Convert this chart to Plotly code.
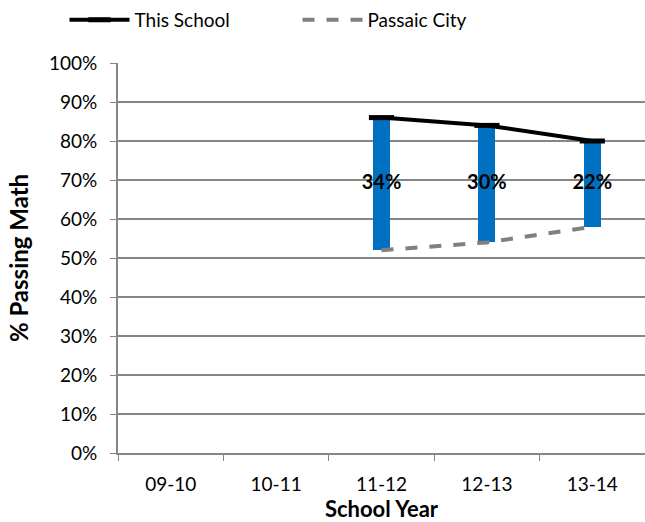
import plotly.graph_objects as go

years = ["09-10", "10-11", "11-12", "12-13", "13-14"]
school = [None, None, 86, 84, 80]
city = [None, None, 52, 54, 58]
gap_years = ["11-12", "12-13", "13-14"]
gap_labels = ["34%", "30%", "22%"]

school_g = [s for s in school if s is not None]
city_g = [c for c in city if c is not None]
gap = [s - c for s, c in zip(school_g, city_g)]
mid = [c + g / 2 for c, g in zip(city_g, gap)]

FONT = "Lato"

fig = go.Figure()
fig.add_trace(go.Bar(
    x=gap_years, y=gap, base=city_g, width=0.16,
    marker=dict(color="#0070C0", line=dict(width=0)),
    showlegend=False, hoverinfo="skip",
))
fig.add_trace(go.Scatter(
    x=gap_years, y=mid, mode="text", text=gap_labels,
    textfont=dict(family=FONT, size=20, color="black", weight="bold"),
    showlegend=False, hoverinfo="skip",
))
fig.add_trace(go.Scatter(
    x=years, y=school, name="This School", mode="lines+markers",
    line=dict(color="black", width=4),
    marker=dict(symbol="line-ew", size=18, line=dict(width=5, color="black")),
    connectgaps=False,
))
fig.add_trace(go.Scatter(
    x=years, y=city, name="Passaic City", mode="lines",
    line=dict(color="#808080", width=4, dash="dash"),
    connectgaps=False,
))

fig.update_layout(
    width=645, height=522,
    margin=dict(l=118, r=0, t=63, b=69, autoexpand=False),
    paper_bgcolor="white", plot_bgcolor="white",
    font=dict(family=FONT, size=19, color="black"),
    showlegend=True,
    legend=dict(orientation="h", xref="container", yref="container",
                x=0.1, xanchor="left", y=0.962, yanchor="middle",
                font=dict(size=19), entrywidth=158, entrywidthmode="pixels",
                itemwidth=60, traceorder="normal"),
    bargap=0,
)
fig.update_xaxes(
    type="category", categoryorder="array", categoryarray=years,
    range=[-0.5, 4.5], tickson="boundaries", ticks="outside", ticklen=6,
    tickcolor="#868686", showline=True, linecolor="#868686", linewidth=2,
    showgrid=False, tickfont=dict(size=19), automargin=False,
    ticklabelstandoff=13,
    title=dict(text="<b>School Year</b>", font=dict(size=22), standoff=7),
)
fig.update_yaxes(
    range=[0, 100], dtick=10, ticksuffix="%", ticks="outside", ticklen=6,
    tickcolor="#868686", showline=True, linecolor="#868686", linewidth=2,
    showgrid=True, gridcolor="#868686", gridwidth=2, zeroline=False,
    tickfont=dict(size=19), automargin=False, ticklabelstandoff=9,
    title=dict(text="<b>% Passing Math</b>", font=dict(size=24), standoff=14),
)

fig.write_html("out.html", config={"displayModeBar": False},
               post_script="document.body.style.margin='0';document.body.style.overflow='hidden';")
